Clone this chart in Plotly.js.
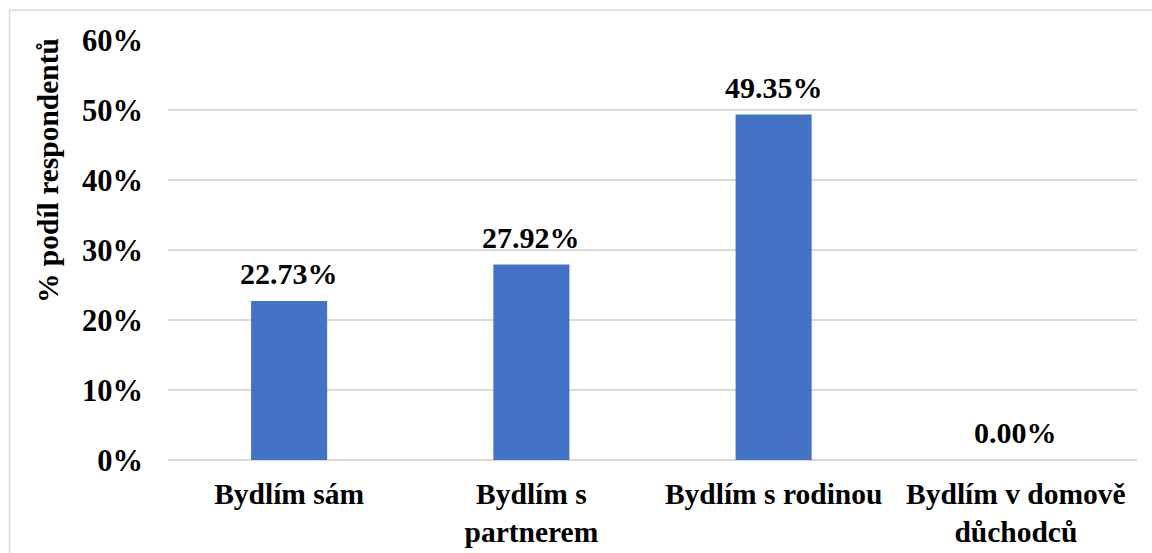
<!DOCTYPE html>
<html>
<head>
<meta charset="utf-8">
<script src="https://cdn.plot.ly/plotly-3.0.1.min.js"></script>
<style>
html,body{margin:0;padding:0;background:#fff;}
#chart{width:1152px;height:553px;}
</style>
</head>
<body>
<div id="chart"></div>
<script>
var categories = ["Bydlím sám", "Bydlím s<br>partnerem", "Bydlím s rodinou", "Bydlím v domově<br>důchodců"];
var values = [22.73, 27.92, 49.35, 0.00];
var tickValues = [0, 10, 20, 30, 40, 50, 60];
var tickLabels = ["0%", "10%", "20%", "30%", "40%", "50%", "60%"];
var yTitle = "% podíl respondentů";

var FONT = "'Liberation Serif', 'Times New Roman', serif";

var trace = {
  type: "bar",
  x: categories,
  y: values,
  marker: {color: "#4472C4"},
  hoverinfo: "none"
};

var annotations = categories.map(function(c, i) {
  return {
    x: c, y: values[i], xref: "x", yref: "y",
    text: "<b>" + values[i].toFixed(2) + "%</b>",
    showarrow: false, yanchor: "bottom", yshift: 9,
    font: {family: FONT, size: 30, color: "#000"}
  };
});
annotations.push({
  xref: "paper", yref: "paper", x: -0.124, y: 0.69,
  xanchor: "center", yanchor: "middle",
  text: "<b>" + yTitle + "</b>", textangle: -90, showarrow: false,
  font: {family: FONT, size: 29.5, color: "#000"}
});

var layout = {
  width: 1152, height: 553,
  margin: {l: 168, r: 15, t: 40, b: 93},
  paper_bgcolor: "#fff", plot_bgcolor: "#fff",
  bargap: 0.686,
  showlegend: false,
  font: {family: FONT, size: 29, color: "#000"},
  xaxis: {
    type: "category",
    tickfont: {family: FONT, size: 29.5, color: "#000", weight: "bold"},
    showgrid: false, showline: false, zeroline: false,
    ticks: "", ticklabelstandoff: 13, fixedrange: true
  },
  yaxis: {
    range: [0, 60],
    tickvals: tickValues, ticktext: tickLabels,
    tickfont: {family: FONT, size: 30.5, color: "#000", weight: "bold"},
    showgrid: true, gridcolor: "#d9d9d9", gridwidth: 2,
    zeroline: true, zerolinecolor: "#d9d9d9", zerolinewidth: 2,
    showline: false, ticks: "", ticklabelstandoff: 24, fixedrange: true
  },
  annotations: annotations,
  shapes: [{
    type: "rect", xref: "paper", yref: "paper",
    x0: -0.1635, x1: 1.05, y0: -0.3, y1: 1.071,
    line: {color: "#d9d9d9", width: 1.5}, fillcolor: "rgba(0,0,0,0)", layer: "below"
  }]
};

Plotly.newPlot("chart", [trace], layout, {displayModeBar: false, staticPlot: true});
</script>
</body>
</html>
